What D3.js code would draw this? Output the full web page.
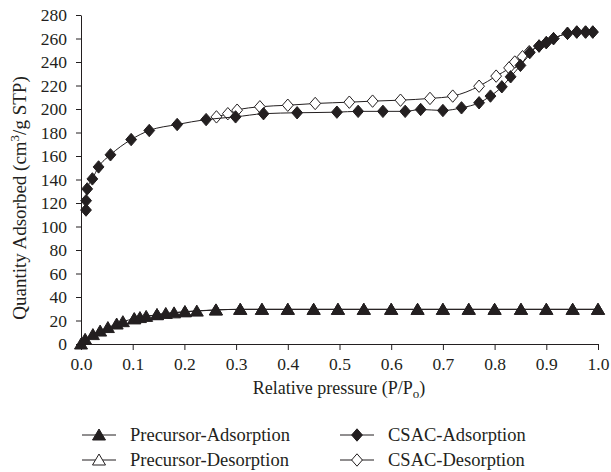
<!DOCTYPE html>
<html>
<head>
<meta charset="utf-8">
<script src="https://cdn.jsdelivr.net/npm/d3@7"></script>
<style>
  body { margin: 0; background: #fff; }
  text { font-family: "Liberation Serif", "DejaVu Serif", serif; fill: #231f20; }
</style>
</head>
<body>
<svg width="611" height="472"></svg>
<script>
// datos
const xTicks = [0, 0.1, 0.2, 0.3, 0.4, 0.5, 0.6, 0.7, 0.8, 0.9, 1.0];
const yTicks = [0, 20, 40, 60, 80, 100, 120, 140, 160, 180, 200, 220, 240, 260, 280];

const preAdsP = [0.0, 0.008, 0.023, 0.037, 0.052, 0.069, 0.081, 0.103, 0.114, 0.126, 0.147, 0.164, 0.18, 0.201, 0.224, 0.261, 0.308, 0.35, 0.40, 0.45, 0.497, 0.547, 0.6, 0.651, 0.70, 0.75, 0.80, 0.851, 0.90, 0.951, 1.0];
const preAdsQ = [0, 4, 8, 11, 14, 17, 19, 21.5, 22.5, 23.5, 25, 26, 26.5, 27.5, 28, 29, 29.5, 29.5, 29.5, 29.5, 29.5, 29.5, 29.5, 29.5, 29.5, 29.5, 29.5, 29.5, 29.5, 29.5, 29.5];

const preDesP = [0.103, 0.147, 0.201, 0.261, 0.308, 0.35, 0.40, 0.45, 0.497, 0.547, 0.6, 0.651, 0.70, 0.75, 0.80, 0.851, 0.90, 0.951, 1.0];
const preDesQ = [21.5, 25, 27.5, 29, 29.5, 29.5, 29.5, 29.5, 29.5, 29.5, 29.5, 29.5, 29.5, 29.5, 29.5, 29.5, 29.5, 29.5, 29.5];

const csacAdsP = [0.0097, 0.0099, 0.012, 0.022, 0.034, 0.057, 0.097, 0.132, 0.186, 0.242, 0.299, 0.353, 0.418, 0.495, 0.536, 0.584, 0.627, 0.657, 0.70, 0.736, 0.770, 0.792, 0.814, 0.831, 0.85, 0.868, 0.886, 0.90, 0.914, 0.941, 0.959, 0.976, 0.99];
const csacAdsQ = [114, 122, 132, 140.5, 150.7, 161, 174, 181.7, 186.8, 191, 193.3, 196, 196.8, 197.3, 198, 198, 198, 199.6, 198.7, 201, 205.3, 211, 218.9, 227.4, 237.1, 248, 253.6, 256.5, 259.9, 264.4, 265.5, 265.5, 265.5];

const csacDesP = [0.262, 0.284, 0.302, 0.346, 0.40, 0.453, 0.519, 0.564, 0.618, 0.675, 0.719, 0.770, 0.803, 0.828, 0.839, 0.854, 0.867, 0.886, 0.90, 0.914, 0.941, 0.959, 0.976, 0.99];
const csacDesQ = [193.3, 196, 199, 201.9, 203.2, 204.7, 205.8, 206.7, 207.5, 209, 211, 219.4, 228, 235, 240, 244.5, 248.8, 253.6, 256.5, 259.9, 264.4, 265.5, 265.5, 265.5];

const svg = d3.select("svg");
const margin = {top: 15, left: 81};
const width = 517, height = 329; // area del grafico

const x = d3.scaleLinear().domain([0, 1]).range([margin.left, margin.left + width]);
const y = d3.scaleLinear().domain([0, 280]).range([margin.top + height, margin.top]);

const ink = "#231f20";

// ejes
const gx = svg.append("g")
  .attr("transform", `translate(0,${margin.top + height})`)
  .call(d3.axisBottom(x).tickValues(xTicks).tickFormat(d3.format(".1f")).tickSize(6).tickSizeOuter(0));
const gy = svg.append("g")
  .attr("transform", `translate(${margin.left},0)`)
  .call(d3.axisLeft(y).tickValues(yTicks).tickSize(5).tickSizeOuter(0));

[gx, gy].forEach(g => {
  g.selectAll("path, line").attr("stroke", ink).attr("stroke-width", 1);
  g.selectAll("text").attr("fill", ink).style("font-size", "17.5px")
    .style("font-family", '"Liberation Serif", serif');
});
gx.selectAll("text").attr("y", 10).attr("dy", "0.93em");
gy.selectAll("text").attr("x", -14).attr("dy", "0.34em");

// marcadores
const triangle = "M0,-6L6.5,5L-6.5,5Z";
const diamond = "M0,-6.2L5.4,0L0,6.2L-5.4,0Z";

const line = d3.line().x(d => x(d[0])).y(d => y(d[1])).curve(d3.curveMonotoneX);

function serie(ps, qs, shape, fill) {
  const pts = ps.map((p, i) => [p, qs[i]]);
  svg.append("path")
    .datum(pts)
    .attr("d", line)
    .attr("fill", "none")
    .attr("stroke", ink)
    .attr("stroke-width", 1);
  svg.append("g").selectAll("path")
    .data(pts)
    .enter().append("path")
    .attr("d", shape)
    .attr("transform", d => `translate(${x(d[0])},${y(d[1])})`)
    .attr("fill", fill)
    .attr("stroke", ink)
    .attr("stroke-width", 1);
}

serie(preDesP, preDesQ, triangle, "#fff");
serie(preAdsP, preAdsQ, triangle, ink);
serie(csacDesP, csacDesQ, diamond, "#fff");
serie(csacAdsP, csacAdsQ, diamond, ink);

// titulos de ejes
const xt = svg.append("text")
  .attr("x", 339).attr("y", 394)
  .attr("text-anchor", "middle")
  .style("font-size", "18px")
  .text("Relative pressure (P/P");
xt.append("tspan").attr("dy", 4).style("font-size", "13px").text("o");
xt.append("tspan").attr("dy", -4).text(")");

const yt = svg.append("text")
  .attr("transform", "translate(26,198) rotate(-90)")
  .attr("text-anchor", "middle")
  .style("font-size", "19px")
  .text("Quantity Adsorbed (cm");
yt.append("tspan").attr("dy", -7).style("font-size", "13px").text("3");
yt.append("tspan").attr("dy", 7).text("/g STP)");

// leyenda
const legend = [
  {name: "Precursor-Adsorption", shape: triangle, fill: ink, lx: 82, ly: 435},
  {name: "Precursor-Desorption", shape: triangle, fill: "#fff", lx: 82, ly: 460},
  {name: "CSAC-Adsorption", shape: diamond, fill: ink, lx: 340, ly: 435},
  {name: "CSAC-Desorption", shape: diamond, fill: "#fff", lx: 340, ly: 460}
];
legend.forEach(l => {
  svg.append("line")
    .attr("x1", l.lx).attr("x2", l.lx + 34)
    .attr("y1", l.ly).attr("y2", l.ly)
    .attr("stroke", ink).attr("stroke-width", 1);
  svg.append("path")
    .attr("d", l.shape)
    .attr("transform", `translate(${l.lx + 17},${l.ly})`)
    .attr("fill", l.fill).attr("stroke", ink).attr("stroke-width", 1);
  svg.append("text")
    .attr("x", l.lx + 48).attr("y", l.ly + 6)
    .style("font-size", "18.5px")
    .text(l.name);
});
</script>
</body>
</html>
